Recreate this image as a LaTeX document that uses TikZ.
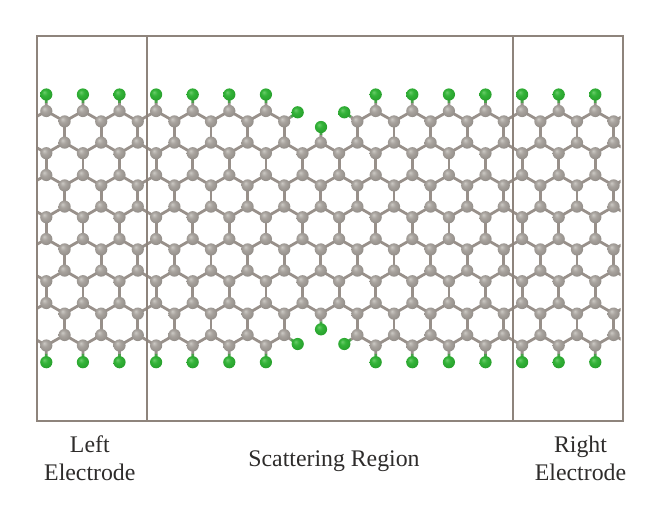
\documentclass[tikz,border=0pt]{standalone}
\usepackage{fontspec}
\setmainfont{Liberation Serif}
\usetikzlibrary{calc}
\pgfdeclareradialshading{catomball}{\pgfpoint{-9bp}{10bp}}{rgb(0bp)=(.80,.79,.77); rgb(12bp)=(.66,.64,.62); rgb(30bp)=(.57,.55,.53); rgb(50bp)=(.40,.39,.37)}
\pgfdeclareradialshading{hatomball}{\pgfpoint{-9bp}{10bp}}{rgb(0bp)=(.42,.80,.42); rgb(12bp)=(.20,.70,.22); rgb(30bp)=(.15,.62,.17); rgb(50bp)=(.10,.45,.12)}
\definecolor{framecol}{HTML}{8E847C}
\definecolor{bondcol}{HTML}{98908A}
\definecolor{bondgreen}{HTML}{4BA04B}
\definecolor{labelcol}{HTML}{2E2C2B}
\tikzset{
  framebox/.style={draw=framecol,line width=2.3pt},
  bondline/.style={draw=bondcol,line width=2.8pt},
  halfgreen/.style={draw=bondgreen,line width=2.8pt},
  catom/.style={circle,inner sep=0pt,minimum size=12.2pt,shade,shading=catomball},
  hatom/.style={circle,inner sep=0pt,minimum size=12.2pt,shade,shading=hatomball},
  caption/.style={text=labelcol,font=\fontsize{23.8}{28.3}\selectfont,align=center,inner sep=0pt},
}
\newcommand{\bondCC}[4]{\draw[bondline] (p-#1-#2) -- (p-#3-#4);}
\newcommand{\bondCH}[3]{%
  \draw[bondline] (p-#1-#2) -- ($(p-#1-#2)!0.5!(#3)$);
  \draw[halfgreen] ($(p-#1-#2)!0.5!(#3)$) -- (#3);}
\begin{document}
\begin{tikzpicture}[x=1pt,y=-1pt]
\useasboundingbox (0,0) rectangle (660,512);
\fill[white] (0,0) rectangle (660,512);
% lattice points
\foreach \r/\yy in {0/111,1/121.4,2/142.6,3/153.2,4/175,5/185.4,6/206.6,7/217.2,8/239,9/249.4,10/270.6,11/281.2,12/303,13/313.6,14/335,15/345.5}{
  \foreach \k in {-2,...,34}{
    \coordinate (p-\r-\k) at ({46.3+18.3*\k},\yy);
  }
}
% terminating atom positions
\foreach \k in {0,2,...,12,18,20,...,30}{
  \coordinate (ht-\k) at ({46.3+18.3*\k},94.5);
  \coordinate (hb-\k) at ({46.3+18.3*\k},362.2);
}
\coordinate (hn1) at (297.7,112.3);
\coordinate (hn2) at (321,127);
\coordinate (hn3) at (344.3,112.3);
\coordinate (hs1) at (297.7,344);
\coordinate (hs2) at (321,329.3);
\coordinate (hs3) at (344.3,344);
% carbon-carbon bonds
\begin{scope}
\clip (37.3,0) rectangle (620.5,512);
\foreach \P in {0,1,2,3}{
  \pgfmathtruncatemacro{\ra}{4*\P}
  \pgfmathtruncatemacro{\rb}{4*\P+1}
  \pgfmathtruncatemacro{\rc}{4*\P+2}
  \pgfmathtruncatemacro{\rd}{4*\P+3}
  \pgfmathtruncatemacro{\re}{4*\P+4}
  \foreach \k in {0,2,...,32}{
    \pgfmathtruncatemacro{\kl}{\k-1}
    \pgfmathtruncatemacro{\kr}{\k+1}
    \pgfmathtruncatemacro{\gapA}{(\P==0)&&((\k==14)||(\k==16))?1:0}
    \pgfmathtruncatemacro{\gapB}{(\P==3)&&((\k==14)||(\k==16))?1:0}
    \ifnum\gapA=0
      \bondCC{\ra}{\k}{\rb}{\kl}
      \bondCC{\ra}{\k}{\rb}{\kr}
    \fi
    \ifnum\gapB=0
      \bondCC{\rd}{\k}{\rc}{\kl}
      \bondCC{\rd}{\k}{\rc}{\kr}
    \fi
    \ifnum\P<3
      \bondCC{\rd}{\k}{\re}{\k}
    \fi
  }
  \foreach \k in {1,3,...,31}{
    \pgfmathtruncatemacro{\gapC}{((\P==0)||(\P==3))&&(\k==15)?1:0}
    \ifnum\gapC=0
      \bondCC{\rb}{\k}{\rc}{\k}
    \fi
  }
}
\end{scope}
% carbon-hydrogen bonds
\foreach \k in {0,2,...,12,18,20,...,30}{
  \bondCH{0}{\k}{ht-\k}
  \bondCH{15}{\k}{hb-\k}
}
\bondCH{1}{13}{hn1}
\bondCH{2}{15}{hn2}
\bondCH{1}{17}{hn3}
\bondCH{14}{13}{hs1}
\bondCH{13}{15}{hs2}
\bondCH{14}{17}{hs3}
% carbon atoms
\foreach \r in {0,3,4,7,8,11,12,15}{
  \foreach \k in {0,2,...,30}{
    \pgfmathtruncatemacro{\gapD}{((\r==0)||(\r==15))&&((\k==14)||(\k==16))?1:0}
    \ifnum\gapD=0
      \node[catom] (c-\r-\k) at (p-\r-\k) {};
    \fi
  }
}
\foreach \r in {1,2,5,6,9,10,13,14}{
  \foreach \k in {1,3,...,31}{
    \pgfmathtruncatemacro{\gapE}{((\r==1)||(\r==14))&&(\k==15)?1:0}
    \ifnum\gapE=0
      \node[catom] (c-\r-\k) at (p-\r-\k) {};
    \fi
  }
}
% terminating atoms
\foreach \k in {0,2,...,12,18,20,...,30}{
  \node[hatom] (hatop-\k) at (ht-\k) {};
  \node[hatom] (habot-\k) at (hb-\k) {};
}
\foreach \n in {hn1,hn2,hn3,hs1,hs2,hs3}{
  \node[hatom] (ha-\n) at (\n) {};
}
% cell frames
\draw[framebox] (37.3,36.3) rectangle (623,421);
\draw[framebox] (146.7,36.3) -- (146.7,421);
\draw[framebox] (513.3,36.3) -- (513.3,421);
% captions
\node[caption,anchor=center] (leftlabel) at (89.8,458.5) {Left\\Electrode};
\node[caption,anchor=base] (midlabel) at (334,466) {Scattering Region};
\node[caption,anchor=center] (rightlabel) at (580.5,458.5) {Right\\Electrode};
\end{tikzpicture}
\end{document}
